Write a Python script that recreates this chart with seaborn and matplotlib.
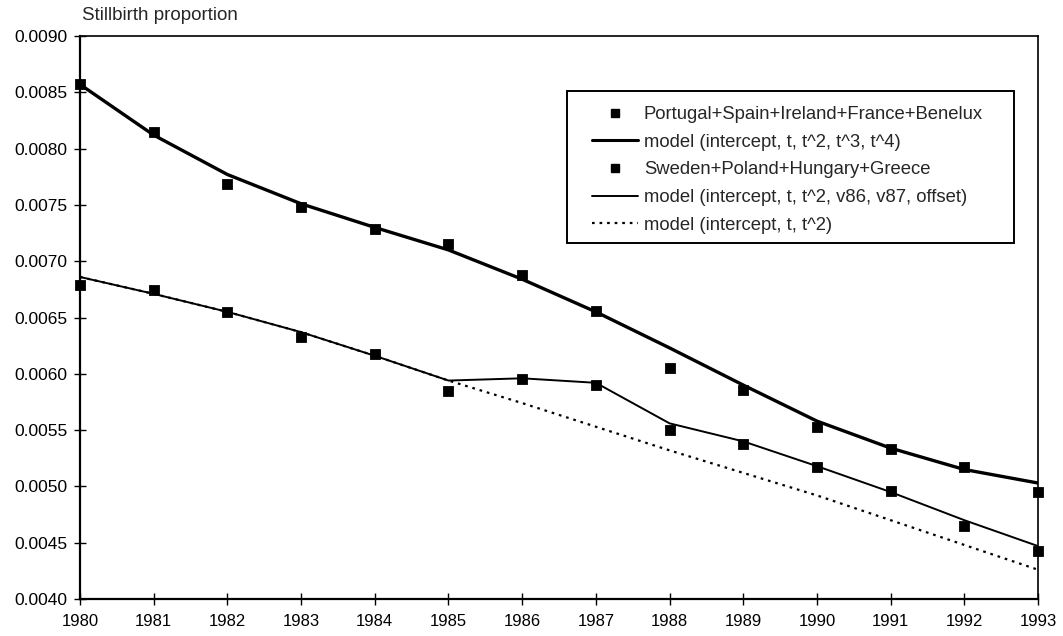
"""Stillbirth proportion 1980-1993: observed groups and fitted models."""
import matplotlib
matplotlib.use("Agg")
import matplotlib.pyplot as plt
from matplotlib.lines import Line2D
from matplotlib.patches import Rectangle
import pandas as pd
import seaborn as sns

years = list(range(1980, 1994))

# Observed proportions (squares)
west = [0.00857, 0.00815, 0.00769, 0.00748, 0.00729, 0.00715, 0.00688, 0.00656,
        0.00605, 0.00586, 0.00553, 0.00533, 0.00517, 0.00495]
east = [0.00679, 0.00674, 0.00655, 0.00633, 0.00618, 0.00585, 0.00595, 0.00590,
        0.00550, 0.00538, 0.00517, 0.00496, 0.00465, 0.00443]

# Fitted model curves
model_quartic = [0.00857, 0.00812, 0.00777, 0.00751, 0.00730, 0.00710, 0.00684, 0.00655,
                 0.00623, 0.00590, 0.00558, 0.00534, 0.00515, 0.00503]
model_offset = [0.00686, 0.00671, 0.00655, 0.00637, 0.00616, 0.00594, 0.00596, 0.00592,
                0.00556, 0.00540, 0.00518, 0.00495, 0.00470, 0.00447]
model_quad = [0.00686, 0.00671, 0.00655, 0.00637, 0.00616, 0.00594, 0.00574, 0.00553,
              0.00532, 0.00512, 0.00492, 0.00470, 0.00448, 0.00426]

labels = [
    "Portugal+Spain+Ireland+France+Benelux",
    "model (intercept, t, t^2, t^3, t^4)",
    "Sweden+Poland+Hungary+Greece",
    "model (intercept, t, t^2, v86, v87, offset)",
    "model (intercept, t, t^2)",
]

sns.set_style("white")
plt.rcParams["font.family"] = ["Liberation Sans", "DejaVu Sans"]
FS = 12.5
W, H = 1063, 636

obs = pd.DataFrame({"year": years * 2, "value": west + east,
                    "group": [labels[0]] * 14 + [labels[2]] * 14})
mod = pd.DataFrame({"year": years, "quartic": model_quartic,
                    "offset": model_offset, "quad": model_quad})

fig = plt.figure(figsize=(W / 100, H / 100), dpi=100)
ax = fig.add_axes([80 / W, 1 - 599 / H, 958 / W, 563 / H])

sns.lineplot(data=mod, x="year", y="quad", ax=ax, color="black", lw=1.6,
             linestyle=(0, (1.2, 2.2)), zorder=2)
sns.lineplot(data=mod, x="year", y="offset", ax=ax, color="black", lw=1.4, zorder=2)
sns.lineplot(data=mod, x="year", y="quartic", ax=ax, color="black", lw=2.4, zorder=2)
sns.scatterplot(data=obs, x="year", y="value", ax=ax, marker="s", s=55,
                color="black", edgecolor="black", legend=False, zorder=3, clip_on=False)

ax.set_xlim(1980, 1993)
ax.set_ylim(0.0040, 0.0090)
ax.set_xticks(years)
ax.set_yticks([0.0040 + 0.0005 * i for i in range(11)])
ax.set_yticklabels([f"{0.0040 + 0.0005 * i:.4f}" for i in range(11)], fontsize=FS)
ax.set_xticklabels([str(y) for y in years], fontsize=FS - 0.5)
ax.tick_params(axis="both", direction="inout", length=8, width=1, color="black",
               labelcolor="black", left=True, bottom=True)
ax.tick_params(axis="x", pad=7)
ax.tick_params(axis="y", pad=5)
ax.set_xlabel("")
ax.set_ylabel("")
for sp in ax.spines.values():
    sp.set_visible(True)
    sp.set_color("black")
    sp.set_linewidth(1.2)
ax.spines["bottom"].set_linewidth(1.6)
ax.spines["left"].set_linewidth(1.6)

fig.text(82 / W, 1 - 15 / H, "Stillbirth proportion", fontsize=13.5,
         ha="left", va="center")

# legend box drawn separately so its padding matches the original
box = Rectangle((567 / W, 1 - 243 / H), 447 / W, 152 / H, transform=fig.transFigure,
                facecolor="white", edgecolor="black", lw=1.4, zorder=4, clip_on=False)
ax.add_patch(box)

handles = [
    Line2D([], [], color="black", marker="s", linestyle="none", markersize=6),
    Line2D([], [], color="black", lw=2.2),
    Line2D([], [], color="black", marker="s", linestyle="none", markersize=6),
    Line2D([], [], color="black", lw=1.4),
    Line2D([], [], color="black", lw=1.6, linestyle=(0, (1.2, 2.2))),
]
leg = ax.legend(handles, labels, loc="upper left",
                bbox_to_anchor=(592 / W, 1 - 106 / H), bbox_transform=fig.transFigure,
                borderaxespad=0, borderpad=0, fontsize=FS + 0.8, frameon=False,
                handlelength=2.5, handletextpad=0.3, labelspacing=0.58)
leg.set_zorder(5)

fig.savefig("out.png", dpi=100)
